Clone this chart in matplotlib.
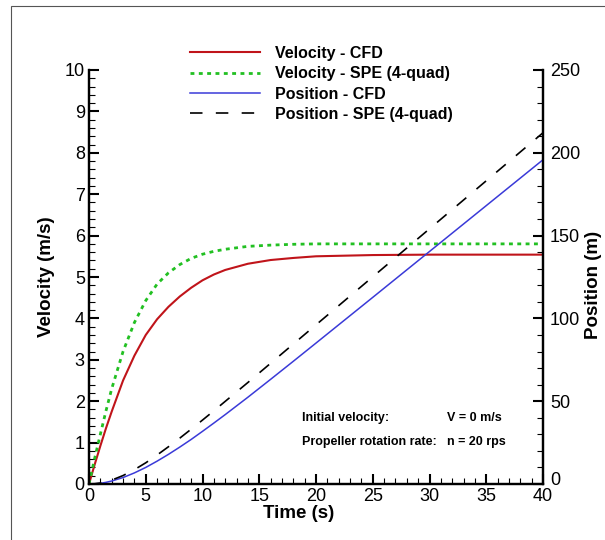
import matplotlib
matplotlib.use("Agg")
import matplotlib.pyplot as plt
import matplotlib.transforms as mtransforms
from matplotlib.patches import Rectangle

plt.rcParams['font.family'] = ['Liberation Sans', 'DejaVu Sans']

# time samples (s)
time_s = [0, 0.5, 1, 1.5, 2, 3, 4, 5, 6, 7, 8, 9, 10, 11, 12, 14, 16, 18, 20, 25, 30, 35, 40]

# velocity (m/s)
vel_cfd = [0, 0.47, 0.92, 1.35, 1.75, 2.5, 3.1, 3.6, 3.98, 4.28, 4.53, 4.74, 4.92,
           5.06, 5.17, 5.32, 5.41, 5.46, 5.5, 5.53, 5.54, 5.54, 5.54]
vel_spe = [0, 0.62, 1.2, 1.77, 2.3, 3.2, 3.9, 4.43, 4.83, 5.1, 5.3, 5.45, 5.55,
           5.62, 5.67, 5.74, 5.77, 5.79, 5.8, 5.8, 5.8, 5.8, 5.8]

# position (m)
pos_cfd = [0, 0.1, 0.4, 1.0, 1.8, 3.9, 6.7, 10.0, 13.8, 17.9, 22.3, 26.9, 31.8,
           36.8, 41.9, 52.4, 63.2, 74.1, 85.1, 112.7, 140.4, 168.1, 195.8]
pos_spe = [0, 0.15, 0.6, 1.4, 2.35, 5.1, 8.65, 12.8, 17.5, 22.5, 27.7, 33.1, 38.6,
           44.2, 49.9, 61.3, 72.9, 84.5, 96.1, 125.1, 154.1, 183.1, 212.1]

labels = ["Velocity - CFD", "Velocity - SPE (4-quad)",
          "Position - CFD", "Position - SPE (4-quad)"]

fig = plt.figure(figsize=(6.05, 5.40), dpi=100)
ax = fig.add_axes([89 / 605, 56 / 540, 454 / 605, 414 / 540])
ax2 = ax.twinx()

l1, = ax.plot(time_s, vel_cfd, color='#c0141a', lw=1.5)
l2, = ax.plot(time_s, vel_spe, color='#22c022', lw=2.0, ls=(0, (1.4, 1.6)))
l3, = ax2.plot(time_s, pos_cfd, color='#3a3ad8', lw=1.1)
l4, = ax2.plot(time_s, pos_spe, color='black', lw=1.2, ls=(0, (7.5, 8)))

ax.set_xlim(0, 40)
ax.set_ylim(0, 10)
ax2.set_ylim(0, 250)

ax.set_xticks(range(0, 41, 5))
ax.set_xticks(range(0, 41, 1), minor=True)
ax.set_yticks(range(0, 11, 1))
ax.set_yticks([i * 0.2 for i in range(51)], minor=True)
ax2.set_yticks(range(0, 251, 50))
ax2.set_yticks(range(0, 251, 10), minor=True)

for a in (ax, ax2):
    a.spines['top'].set_visible(False)
    for s in ('left', 'bottom', 'right'):
        a.spines[s].set_linewidth(1.6)
    a.tick_params(which='major', direction='in', length=7, width=1.5, labelsize=13, pad=3)
    a.tick_params(which='minor', direction='in', length=4.5, width=0.8)
ax.tick_params(axis='y', which='both', right=False)
ax2.tick_params(axis='y', which='major', pad=5)

# nudge the right-hand "0" up a little so it does not sit on the "40"
lab0 = ax2.get_yticklabels()[0]
lab0.set_transform(lab0.get_transform() +
                   mtransforms.ScaledTranslation(0, 4 / 72, fig.dpi_scale_trans))

ax.set_xlabel("Time (s)", fontsize=13.5, fontweight='bold')
ax.xaxis.set_label_coords(0.461, -0.05)
ax.set_ylabel("Velocity (m/s)", fontsize=13.5, fontweight='bold')
ax.yaxis.set_label_coords(-0.074, 0.5)
ax2.set_ylabel("Position (m)", fontsize=13.5, fontweight='bold')
ax2.yaxis.set_label_coords(1.092, 0.48)

fig.legend([l1, l2, l3, l4], labels, loc='upper left',
           bbox_to_anchor=(190 / 605, 1 - 46 / 540), frameon=False,
           prop={'size': 11.5, 'weight': 'bold'}, handlelength=4.4,
           handletextpad=0.95, labelspacing=0.33, borderpad=0, borderaxespad=0)

note = dict(fontsize=9, fontweight='bold', transform=fig.transFigure, va='baseline')
fig.text(302 / 605, 1 - 421 / 540, "Initial velocity:", **note)
fig.text(447 / 605, 1 - 421 / 540, "V = 0 m/s", **note)
fig.text(302 / 605, 1 - 445 / 540, "Propeller rotation rate:", **note)
fig.text(447 / 605, 1 - 445 / 540, "n = 20 rps", **note)

# outer frame
fig.patches.append(Rectangle((11 / 605, -0.1), 1.2, 1.1 - 6 / 540,
                             transform=fig.transFigure, fill=False,
                             edgecolor='#555555', lw=0.8, clip_on=False))

fig.savefig("out.png", dpi=100)
